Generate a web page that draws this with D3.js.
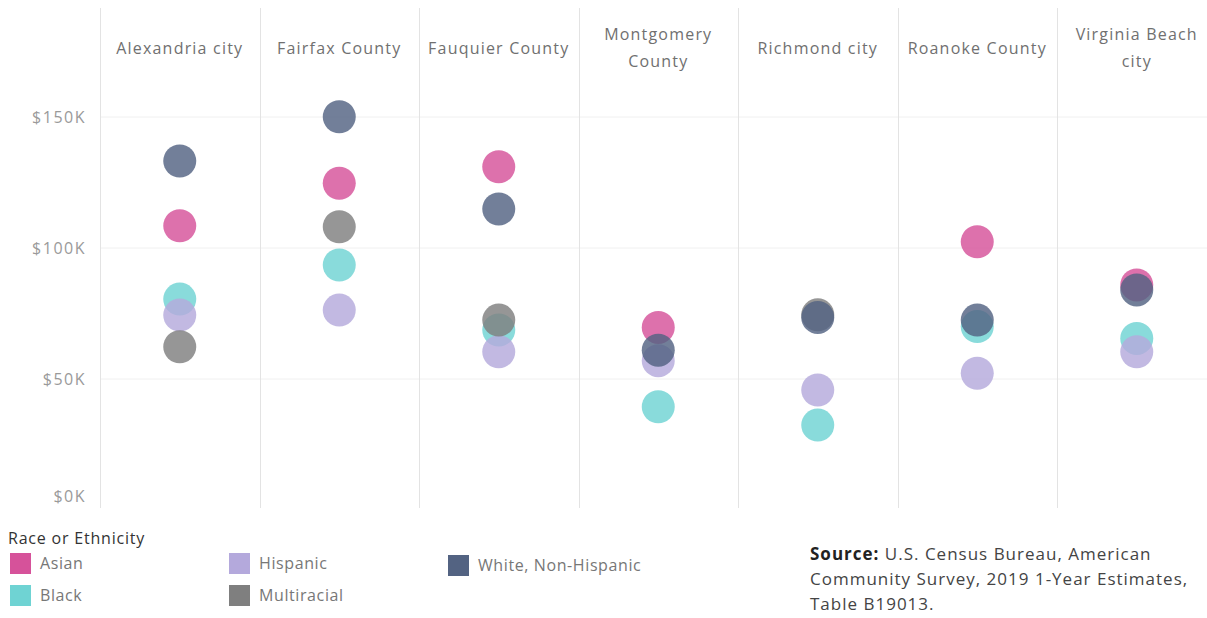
<!DOCTYPE html>
<html><head><meta charset="utf-8">
<script src="https://cdn.jsdelivr.net/npm/d3@7"></script>
<style>
body{margin:0;background:#fff;}
svg{display:block;font-family:"Open Sans",sans-serif;}
</style></head>
<body><svg id="c" width="1207" height="618"></svg>
<script>
const counties = ["Alexandria city","Fairfax County","Fauquier County","Montgomery County","Richmond city","Roanoke County","Virginia Beach city"];
const countyLines = [["Alexandria city"],["Fairfax County"],["Fauquier County"],["Montgomery","County"],["Richmond city"],["Roanoke County"],["Virginia Beach","city"]];
const groups = ["Asian","Black","Hispanic","Multiracial","White, Non-Hispanic"];
const colors = ["#d6529a","#6fd3d3","#b4a9dc","#7f7f7f","#536382"];
// median household income (thousands $), null = not shown
const asian       = [108.5,124.7,131.0,69.7,null,102.4,85.9];
const black       = [80.5, 93.5, 68.7,39.4,32.4, 70.0,65.5];
const hispanic    = [74.4, 76.3, 60.4,57.0,45.8, 52.2,60.4];
const multiracial = [62.3,108.1, 72.5,null,74.5,null,null];
const white       = [133.2,150.1,114.9,61.0,73.5,72.5,84.0];
const yTicks = [0,50,100,150];
const legendCols = [["Asian","Black"],["Hispanic","Multiracial"],["White, Non-Hispanic"]];

const series = [asian,black,hispanic,multiracial,white];
const svg = d3.select("#c");
const plotL = 100, plotR = 1216.5, plotT = 8, plotB = 510;
const x = d3.scaleBand().domain(counties).range([plotL,plotR]);
const y = d3.scaleLinear().domain([0,150]).range([plotB,117]);
const color = d3.scaleOrdinal().domain(groups).range(colors);

// horizontal gridlines
svg.append("g").selectAll("line").data(yTicks.filter(d=>d>0)).join("line")
  .attr("x1",plotL).attr("x2",1207).attr("y1",d=>y(d)).attr("y2",d=>y(d))
  .attr("stroke","#f0f0f0").attr("stroke-width",1);
// vertical column separators
svg.append("g").selectAll("line").data(counties).join("line")
  .attr("x1",d=>Math.round(x(d))+0.5).attr("x2",d=>Math.round(x(d))+0.5)
  .attr("y1",plotT).attr("y2",plotB-2)
  .attr("stroke","#e3e3e3").attr("stroke-width",1);

// y axis labels
const yAxis = d3.axisLeft(y).tickValues(yTicks).tickFormat(d=>"$"+d+"K").tickSize(0).tickPadding(0);
const ga = svg.append("g").attr("transform",`translate(${plotL-14},0)`).call(yAxis);
ga.select(".domain").remove();
ga.selectAll("text").attr("font-family","Open Sans").attr("font-size",16).attr("fill","#9a9a9a")
  .attr("letter-spacing","1.5px")
  .attr("dy",d=>d===0?"-0.55em":"0.34em");

// headers
const hdr = svg.append("g").selectAll("text").data(counties).join("text")
  .attr("x",d=>x(d)+x.bandwidth()/2).attr("text-anchor","middle")
  .attr("font-size",16).attr("fill","#707070").attr("letter-spacing","1.2px");
hdr.each(function(d,i){
  const lines = countyLines[i];
  const t = d3.select(this);
  const y0 = lines.length===1 ? 54 : 40;
  lines.forEach((l,j)=>t.append("tspan").attr("x",x(d)+x.bandwidth()/2).attr("y",y0+j*27).text(l));
});

// points
const pts = [];
groups.forEach((g,gi)=>series[gi].forEach((v,ci)=>{ if(v!=null) pts.push({g,county:counties[ci],v}); }));
svg.append("g").selectAll("circle").data(pts).join("circle")
  .attr("cx",d=>x(d.county)+x.bandwidth()/2).attr("cy",d=>y(d.v)).attr("r",16.5)
  .attr("fill",d=>color(d.g)).attr("fill-opacity",0.82);

// legend
svg.append("text").attr("x",8).attr("y",544).attr("font-size",16).attr("letter-spacing","0.8px").attr("fill","#333").text("Race or Ethnicity");
const colX = [10,229,448];
legendCols.forEach((col,ci)=>col.forEach((g,ri)=>{
  const gy = 553 + ri*32 + (ci===2?2:0);
  svg.append("rect").attr("x",colX[ci]).attr("y",gy).attr("width",21).attr("height",21).attr("fill",color(g));
  svg.append("text").attr("x",colX[ci]+30).attr("y",gy+16).attr("font-size",16).attr("fill","#777").attr("letter-spacing","0.6px").text(g);
}));

// source
const src = svg.append("g").attr("font-size",17).attr("fill","#444").attr("letter-spacing","1px");
const s1 = src.append("text").attr("x",810).attr("y",560);
s1.append("tspan").attr("font-weight","bold").attr("fill","#222").text("Source:");
s1.append("tspan").text(" U.S. Census Bureau, American");
src.append("text").attr("x",810).attr("y",585).text("Community Survey, 2019 1-Year Estimates,");
src.append("text").attr("x",810).attr("y",610).text("Table B19013.");
</script></body></html>
